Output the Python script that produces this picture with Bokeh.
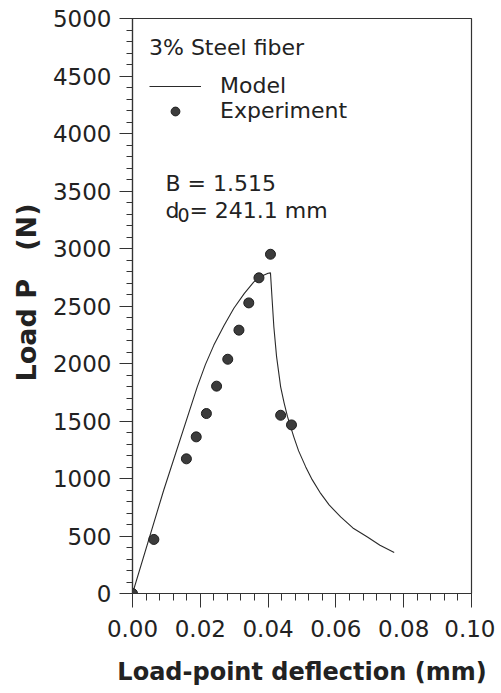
from bokeh.plotting import figure
from bokeh.models import FixedTicker, NumeralTickFormatter, Legend, LegendItem, Label, Range1d, Title
from bokeh.embed import file_html
from bokeh.resources import INLINE

# Model curve (load-point deflection in mm, load in N)
model_x = [0.0, 0.0092, 0.0191, 0.0215, 0.0240, 0.0270, 0.0299, 0.0330, 0.0358, 0.0385,
           0.0400, 0.0407, 0.0412, 0.0417, 0.0425, 0.0437, 0.0447, 0.0457, 0.0476,
           0.0490, 0.0511, 0.0530, 0.0555, 0.0580, 0.0614, 0.0650, 0.0693, 0.0730, 0.0772]
model_p = [0, 898, 1797, 1990, 2160, 2330, 2480, 2610, 2710, 2765,
           2785, 2788, 2550, 2318, 2060, 1797, 1660, 1540, 1360,
           1240, 1101, 990, 870, 770, 666, 570, 492, 420, 357]

# Experimental points
exp_x = [0.0, 0.0063, 0.0159, 0.0188, 0.0218, 0.0248, 0.0281, 0.0314, 0.0343,
         0.0373, 0.0407, 0.0437, 0.0469]
exp_p = [0, 470, 1171, 1362, 1565, 1803, 2037, 2290, 2527,
         2745, 2950, 1550, 1466]

x_ticks = [0.0, 0.02, 0.04, 0.06, 0.08, 0.10]
y_ticks = [0, 500, 1000, 1500, 2000, 2500, 3000, 3500, 4000, 4500, 5000]

FONT = "DejaVu Sans"
INK = "#222222"

p = figure(width=495, height=688, output_backend="svg", toolbar_location=None,
           x_range=Range1d(0, 0.10), y_range=Range1d(0, 5000),
           min_border_left=132, min_border_right=24, min_border_top=18, min_border_bottom=10)

p.xgrid.visible = False
p.ygrid.visible = False
p.outline_line_color = "#333333"
p.outline_line_width = 1.2
p.background_fill_color = "white"
p.border_fill_color = "white"

line_r = p.line(model_x, model_p, line_color="#2a2a2a", line_width=1.1)
pts_r = p.scatter(exp_x, exp_p, size=10, marker="circle", fill_color="#3c3c3c",
                  line_color="#1e1e1e", line_width=1)

p.xaxis.ticker = FixedTicker(ticks=x_ticks, minor_ticks=[i * 0.004 for i in range(26)])
p.yaxis.ticker = FixedTicker(ticks=y_ticks, minor_ticks=[i * 100 for i in range(51)])
p.xaxis.formatter = NumeralTickFormatter(format="0.00")
p.yaxis.formatter = NumeralTickFormatter(format="0")

for ax in (p.xaxis[0], p.yaxis[0]):
    ax.axis_line_color = "#333333"
    ax.axis_line_width = 1.2
    ax.major_tick_line_color = "#333333"
    ax.minor_tick_line_color = "#333333"
    ax.major_tick_in = 0
    ax.minor_tick_in = 0
    ax.major_label_text_font = FONT
    ax.major_label_text_font_size = "23px"
    ax.major_label_text_color = INK
    ax.axis_label_text_font = FONT
    ax.axis_label_text_font_style = "bold"
    ax.axis_label_text_color = INK

p.xaxis.axis_label_text_font_size = "24px"
p.xaxis.major_tick_out = 14
p.xaxis.minor_tick_out = 7
p.yaxis.major_tick_out = 13
p.yaxis.minor_tick_out = 6
p.xaxis.major_label_standoff = 12
p.yaxis.major_label_standoff = 8
p.xaxis.axis_label = "Load-point deflection (mm)"
p.xaxis.axis_label_standoff = 18

# y-axis title as a side title, aligned from the bottom with an offset
p.add_layout(Title(text="Load P \u00a0\u00a0(N)", align="left", offset=212, standoff=15,
                   text_font=FONT, text_font_size="27px", text_font_style="bold",
                   text_color=INK), "left")

legend = Legend(items=[LegendItem(label="Model", renderers=[line_r]),
                       LegendItem(label="Experiment", renderers=[pts_r])],
                location="top_left", title="3% Steel fiber",
                title_text_font=FONT, title_text_font_size="22px",
                title_text_font_style="normal", title_text_color=INK,
                label_text_font=FONT, label_text_font_size="22px", label_text_color=INK,
                glyph_width=52, glyph_height=22, label_height=22, spacing=0,
                label_standoff=19, padding=15, margin=17, title_standoff=13,
                border_line_color=None, background_fill_alpha=0)
p.add_layout(legend)

p.add_layout(Label(x=0.0097, y=3566, text="B = 1.515", text_font=FONT,
                   text_font_size="22px", text_color=INK, text_baseline="alphabetic"))
p.add_layout(Label(x=0.0097, y=3328, text="d", text_font=FONT,
                   text_font_size="22px", text_color=INK, text_baseline="alphabetic"))
p.add_layout(Label(x=0.0097, y=3328, x_offset=12, y_offset=-4, text="0", text_font=FONT,
                   text_font_size="19px", text_color=INK, text_baseline="alphabetic"))
p.add_layout(Label(x=0.0097, y=3328, x_offset=24, text="= 241.1 mm", text_font=FONT,
                   text_font_size="22px", text_color=INK, text_baseline="alphabetic"))

open("out.html", "w").write(file_html(p, INLINE))
